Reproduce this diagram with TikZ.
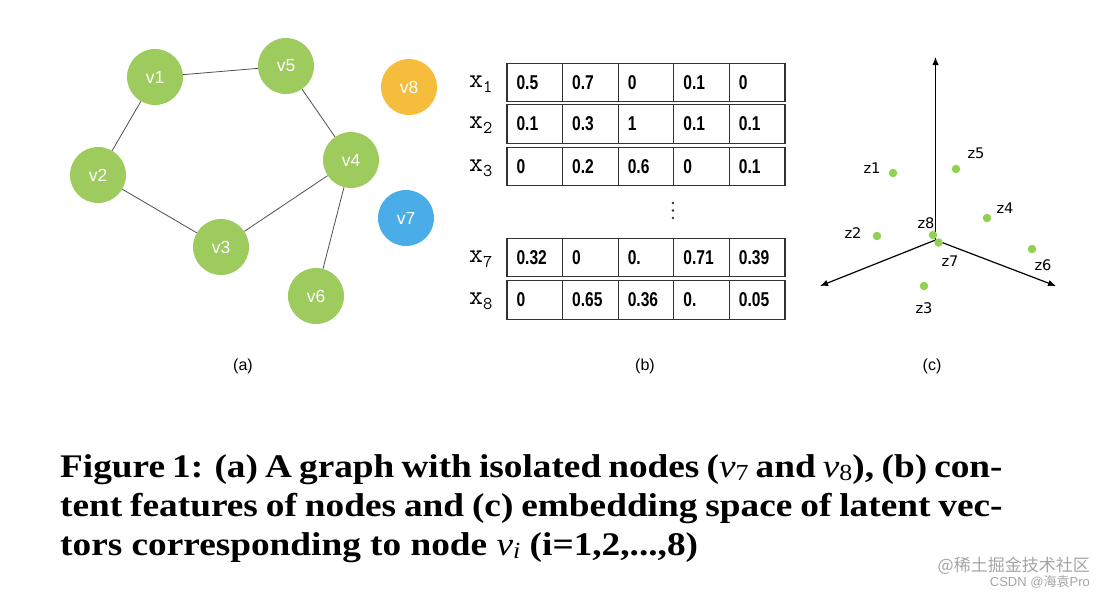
\documentclass[tikz,border=0pt]{standalone}
\usepackage{fontspec}
\usepackage{graphicx}
\setmainfont{Liberation Serif}
\newfontfamily\arialfont{Liberation Sans}
\newfontfamily\dejafont{DejaVu Sans}
\newfontfamily\cjkfont{Noto Sans CJK SC}
\usetikzlibrary{arrows.meta}
\definecolor{vgreen}{RGB}{157,203,94}
\definecolor{vorange}{RGB}{246,189,60}
\definecolor{vblue}{RGB}{74,173,232}
\definecolor{zgreen}{RGB}{146,208,80}
\definecolor{edgegray}{RGB}{80,80,80}
\definecolor{tabline}{RGB}{50,50,50}
\definecolor{wmgray}{RGB}{165,165,165}
\newcommand{\xlab}[1]{{\ttfamily\fontsize{27}{27}\selectfont x\raisebox{-5pt}{\fontsize{18}{18}\selectfont #1}}}
\newcommand{\cval}[1]{\scalebox{0.78}[1]{#1}}
\newcommand{\capv}[1]{\textit{\mdseries v}\raisebox{-3pt}{\mdseries\fontsize{23}{23}\selectfont #1}}
\newcommand{\capscale}[1]{\scalebox{1.13}[1]{#1}}
\begin{document}
\begin{tikzpicture}[x=1pt,y=-1pt,
  vnode/.style={circle,minimum size=56pt,inner sep=0pt,text=white,font=\arialfont\fontsize{17.5}{17.5}\selectfont},
  gedge/.style={draw=edgegray,line width=0.8pt},
  cell/.style={draw=tabline,line width=1.3pt,minimum width=55.6pt,minimum height=38.5pt,inner sep=0pt},
  val/.style={anchor=west,inner sep=0pt,font=\arialfont\bfseries\fontsize{20}{20}\selectfont},
  xl/.style={anchor=base west,inner sep=0pt},
  panel/.style={font=\arialfont\fontsize{16}{16}\selectfont,inner sep=0pt},
  zdot/.style={circle,fill=zgreen,minimum size=8.5pt,inner sep=0pt},
  zl/.style={font=\dejafont\fontsize{14.6}{14.6}\selectfont,inner sep=0pt},
  axis/.style={line width=1.2pt,-{Latex[length=8pt,width=6.5pt]}},
  capline/.style={anchor=base west,inner sep=0pt,font=\bfseries\fontsize{33}{33}\selectfont},
  wm/.style={inner sep=0pt,text=wmgray}]
\useasboundingbox (0,0) rectangle (1108,598);
\fill[white] (0,0) rectangle (1108,598);

% ---------- (a) graph ----------
\node[vnode,fill=vgreen] (v1) at (155,77) {v1};
\node[vnode,fill=vgreen] (v5) at (286,66) {v5};
\node[vnode,fill=vorange] (v8) at (409,87) {v8};
\node[vnode,fill=vgreen] (v4) at (351,160) {v4};
\node[vnode,fill=vgreen] (v2) at (98,175) {v2};
\node[vnode,fill=vblue] (v7) at (406,218) {v7};
\node[vnode,fill=vgreen] (v3) at (221,247) {v3};
\node[vnode,fill=vgreen] (v6) at (316,296) {v6};
\draw[gedge] (v1) -- (v5);
\draw[gedge] (v1) -- (v2);
\draw[gedge] (v2) -- (v3);
\draw[gedge] (v3) -- (v4);
\draw[gedge] (v4) -- (v5);
\draw[gedge] (v4) -- (v6);
\node[panel] (pa) at (243,366) {(a)};

% ---------- (b) table ----------
\foreach \r/\y in {1/82.5,2/124,3/166.5,7/257.5,8/300}{
  \foreach \c/\x in {1/534.8,2/590.4,3/646,4/701.6,5/757.2}{
    \node[cell] (c\r-\c) at (\x,\y) {};
  }
}
\foreach \r/\y in {1/87,2/128.5,3/171,7/262,8/304.5}{
  \node[xl] (x\r) at (469,\y) {\xlab{\r}};
}
\foreach \r/\vals in {1/{0.5,0.7,0,0.1,0},2/{0.1,0.3,1,0.1,0.1},3/{0,0.2,0.6,0,0.1},7/{0.32,0,0.,0.71,0.39},8/{0,0.65,0.36,0.,0.05}}{
  \foreach \v [count=\c] in \vals {
    \node[val] (t\r-\c) at ([xshift=10pt]c\r-\c.west) {\cval{\v}};
  }
}
\foreach \i/\y in {1/203,2/210.5,3/218}{
  \fill[tabline] (673,\y) circle (1.4pt);
}
\node[panel] (pb) at (645,366) {(b)};

% ---------- (c) embedding ----------
\coordinate (o) at (935.5,240);
\coordinate (up) at (935.5,57);
\coordinate (lf) at (820,286);
\coordinate (rt) at (1056,286);
\draw[axis] (o) -- (up);
\draw[axis] (o) -- (lf);
\draw[axis] (o) -- (rt);
\node[zdot] (z1) at (893,173) {};
\node[zdot] (z5) at (956,169) {};
\node[zdot] (z4) at (987,218) {};
\node[zdot] (z2) at (877,236) {};
\node[zdot] (z8) at (933,235) {};
\node[zdot] (z7) at (938.5,242.5) {};
\node[zdot] (z6) at (1032,249) {};
\node[zdot] (z3) at (924,286) {};
\node[zl] (lz1) at (872,168) {z1};
\node[zl] (lz5) at (976,153) {z5};
\node[zl] (lz4) at (1005,208) {z4};
\node[zl] (lz8) at (926,223) {z8};
\node[zl] (lz2) at (853,233) {z2};
\node[zl] (lz7) at (950,261) {z7};
\node[zl] (lz6) at (1043,265) {z6};
\node[zl] (lz3) at (924,308) {z3};
\node[panel] (pc) at (932,366) {(c)};

% ---------- caption ----------
\node[capline] (cap1) at (60,477) {\capscale{\makebox[834pt][s]{Figure 1: (a) A graph with isolated nodes (\capv{7} and \capv{8}), (b) con-}}};
\node[capline] (cap2) at (60,516) {\capscale{\makebox[834pt][s]{tent features of nodes and (c) embedding space of latent vec-}}};
\node[capline] (cap3) at (60,555) {\capscale{tors corresponding to node \capv{\itshape i} (i=1,2,...,8)}};

% ---------- watermark ----------
\node[wm,anchor=east,font=\cjkfont\fontsize{17}{17}\selectfont] (wm1) at (1090,566) {@稀土掘金技术社区};
\node[wm,anchor=east,font=\arialfont\fontsize{13}{13}\selectfont] (wm2) at (1090,582) {CSDN @{\cjkfont 海袁}Pro};
\end{tikzpicture}
\end{document}
